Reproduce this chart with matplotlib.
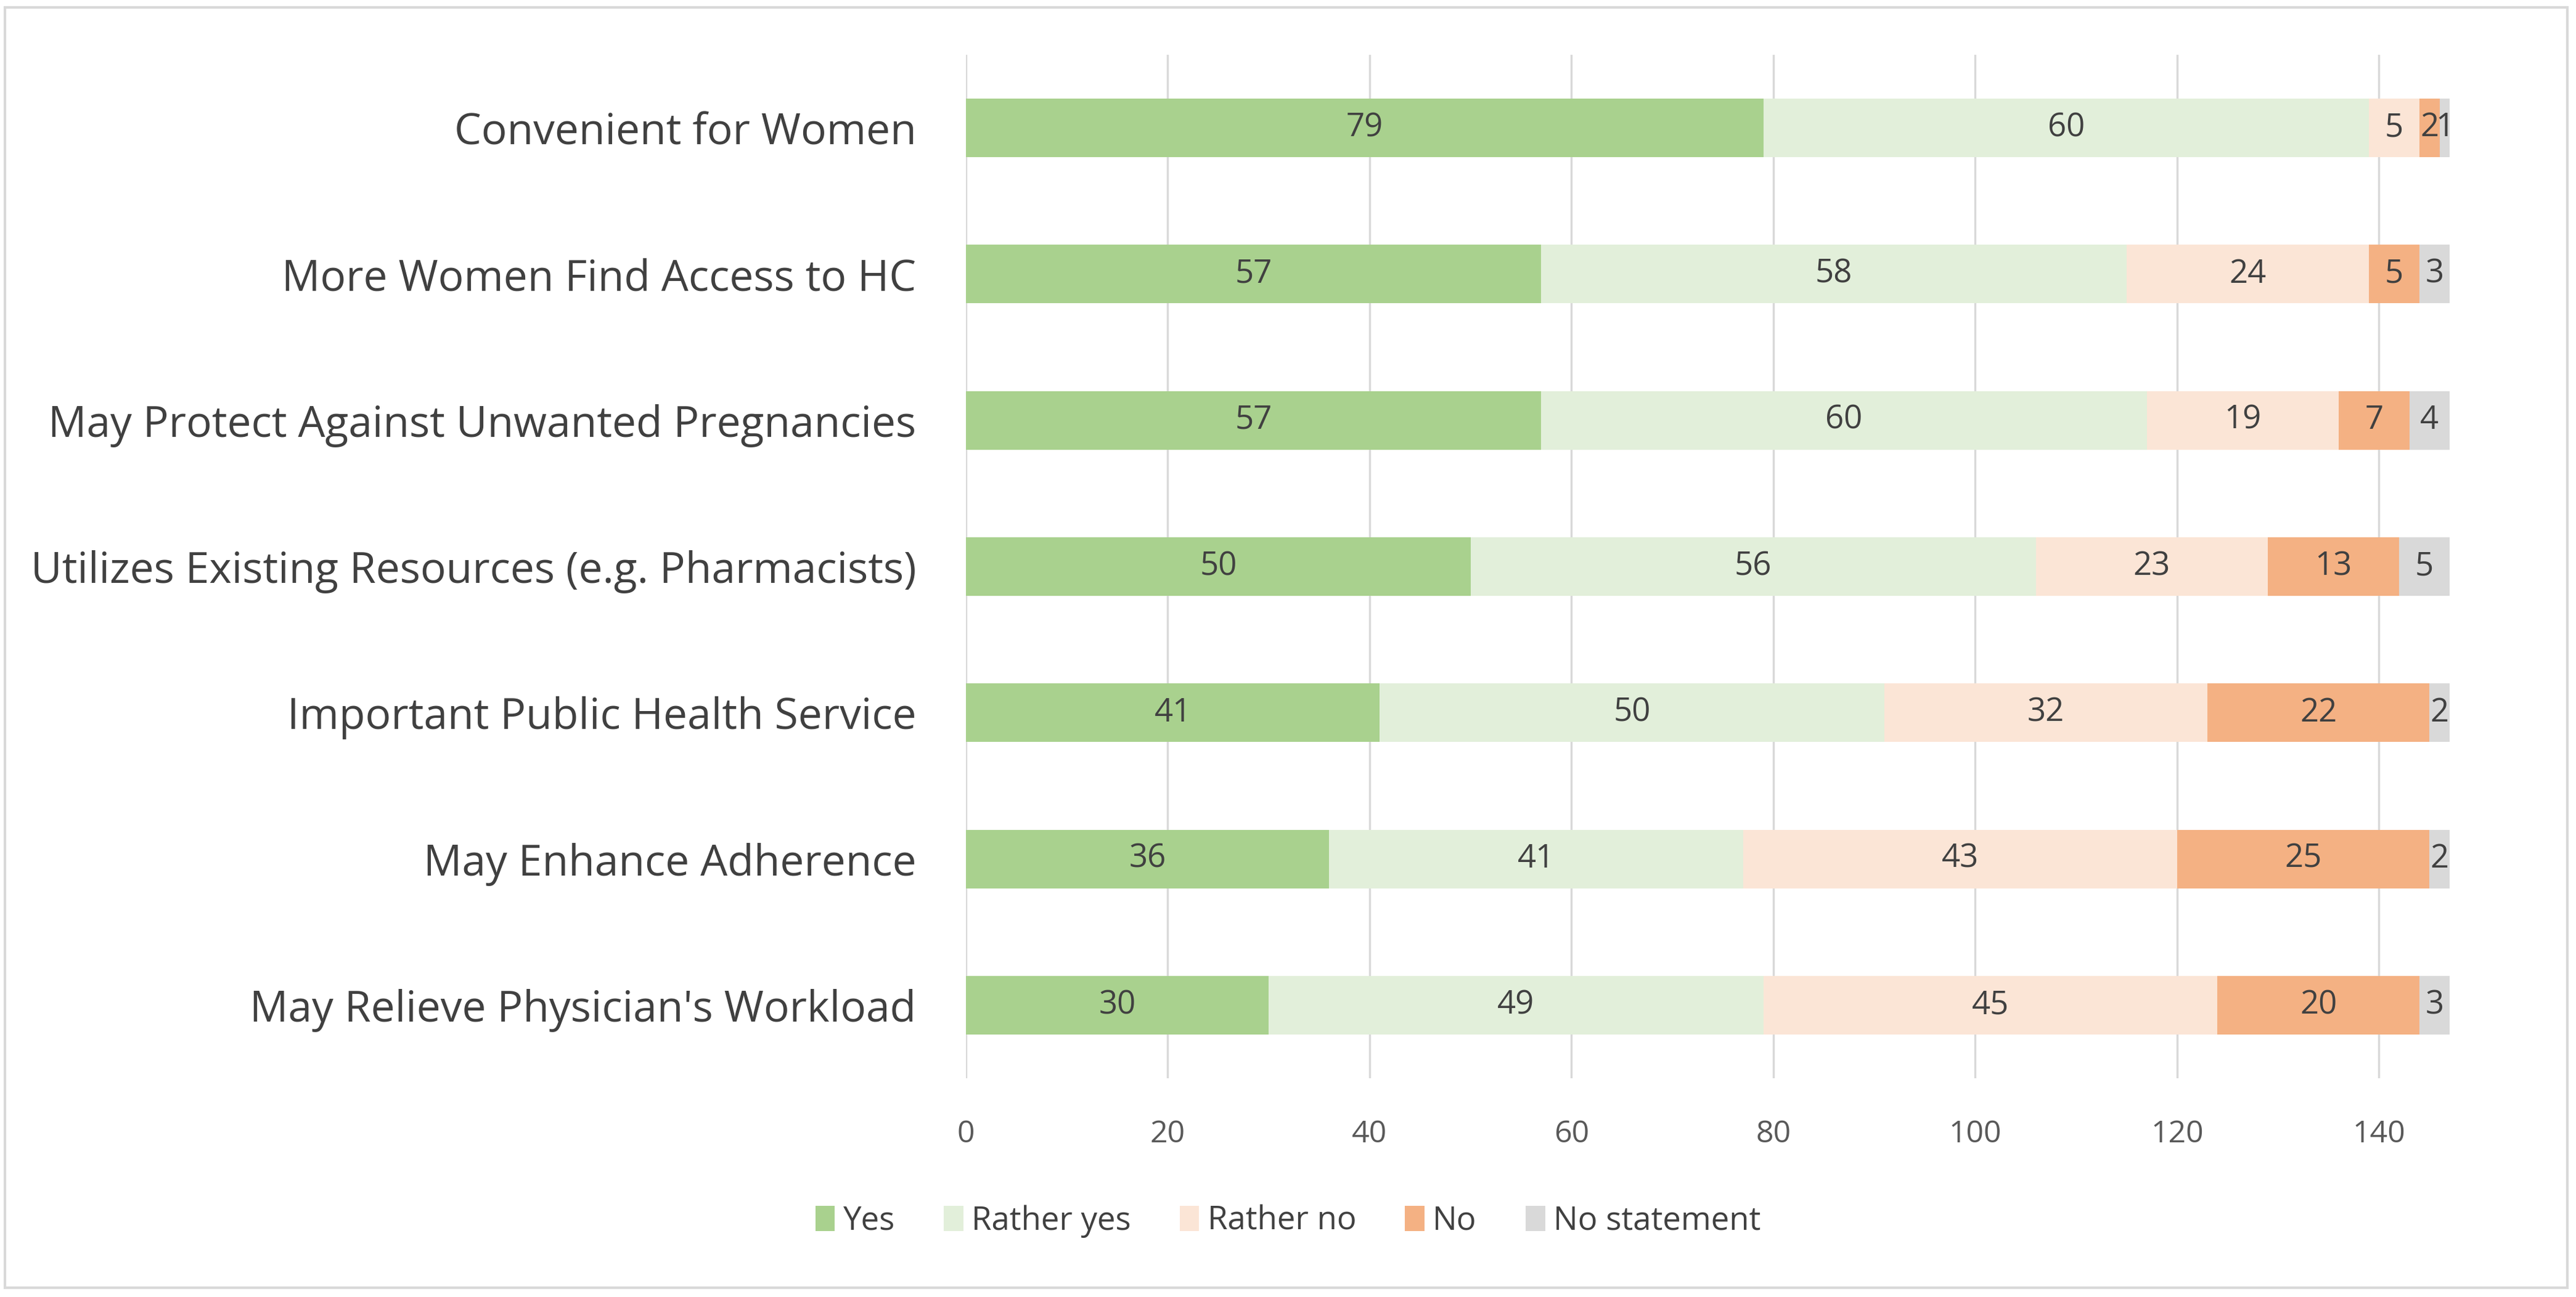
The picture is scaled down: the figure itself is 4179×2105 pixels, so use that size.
import matplotlib

matplotlib.use("Agg")
import matplotlib.pyplot as plt
import numpy as np
from matplotlib.patches import Rectangle

plt.rcParams["font.family"] = ["Open Sans", "DejaVu Sans"]

# Survey statements (top to bottom as shown)
categories = [
    "Convenient for Women",
    "More Women Find Access to HC",
    "May Protect Against Unwanted Pregnancies",
    "Utilizes Existing Resources (e.g. Pharmacists)",
    "Important Public Health Service",
    "May Enhance Adherence",
    "May Relieve Physician's Workload",
]
series_names = ["Yes", "Rather yes", "Rather no", "No", "No statement"]
yes = [79, 57, 57, 50, 41, 36, 30]
rather_yes = [60, 58, 60, 56, 50, 41, 49]
rather_no = [5, 24, 19, 23, 32, 43, 45]
no = [2, 5, 7, 13, 22, 25, 20]
no_statement = [1, 3, 4, 5, 2, 2, 3]
x_ticks = [0, 20, 40, 60, 80, 100, 120, 140]

colors = ["#A9D18E", "#E2EFDA", "#FBE5D6", "#F4B183", "#D9D9D9"]
text_dark = "#404040"

W, H = 4179, 2105
fig = plt.figure(figsize=(W / 100, H / 100), dpi=100)
ax = fig.add_axes([1567 / W, 1 - 1750 / H, (3974 - 1567) / W, (1750 - 89) / H])

y = np.arange(len(categories))
left = np.zeros(len(categories))
for name, vals, col in zip(series_names, [yes, rather_yes, rather_no, no, no_statement], colors):
    vals = np.array(vals, dtype=float)
    bars = ax.barh(y, vals, left=left, height=0.4, color=col, label=name, zorder=2)
    ax.bar_label(bars, labels=[str(int(v)) for v in vals], label_type="center",
                 fontsize=38, color=text_dark)
    left += vals

ax.set_xlim(0, 147)
ax.set_ylim(len(categories) - 0.5, -0.5)
ax.set_xticks(x_ticks)
ax.set_yticks(y)
ax.set_yticklabels(categories)
ax.tick_params(axis="y", length=0, pad=58, labelsize=50, labelcolor=text_dark)
ax.tick_params(axis="x", length=0, pad=48, labelsize=36, labelcolor="#595959")
ax.grid(axis="x", color="#D9D9D9", linewidth=2.5, zorder=0)
ax.set_axisbelow(True)
for s in ax.spines.values():
    s.set_visible(False)

leg = fig.legend(loc="center", bbox_to_anchor=(0.5, 1 - 1982 / H), ncol=5, frameon=False,
                 fontsize=38, handlelength=0.6, handleheight=0.8, handletextpad=0.25,
                 columnspacing=1.5, labelcolor=text_dark)

# outer chart border
fig.patches.append(Rectangle((8 / W, 1 - 2090 / H), (4165 - 8) / W, (2090 - 12) / H,
                             transform=fig.transFigure, fill=False, edgecolor="#D9D9D9",
                             linewidth=3))

fig.savefig("out.png", dpi=100)
